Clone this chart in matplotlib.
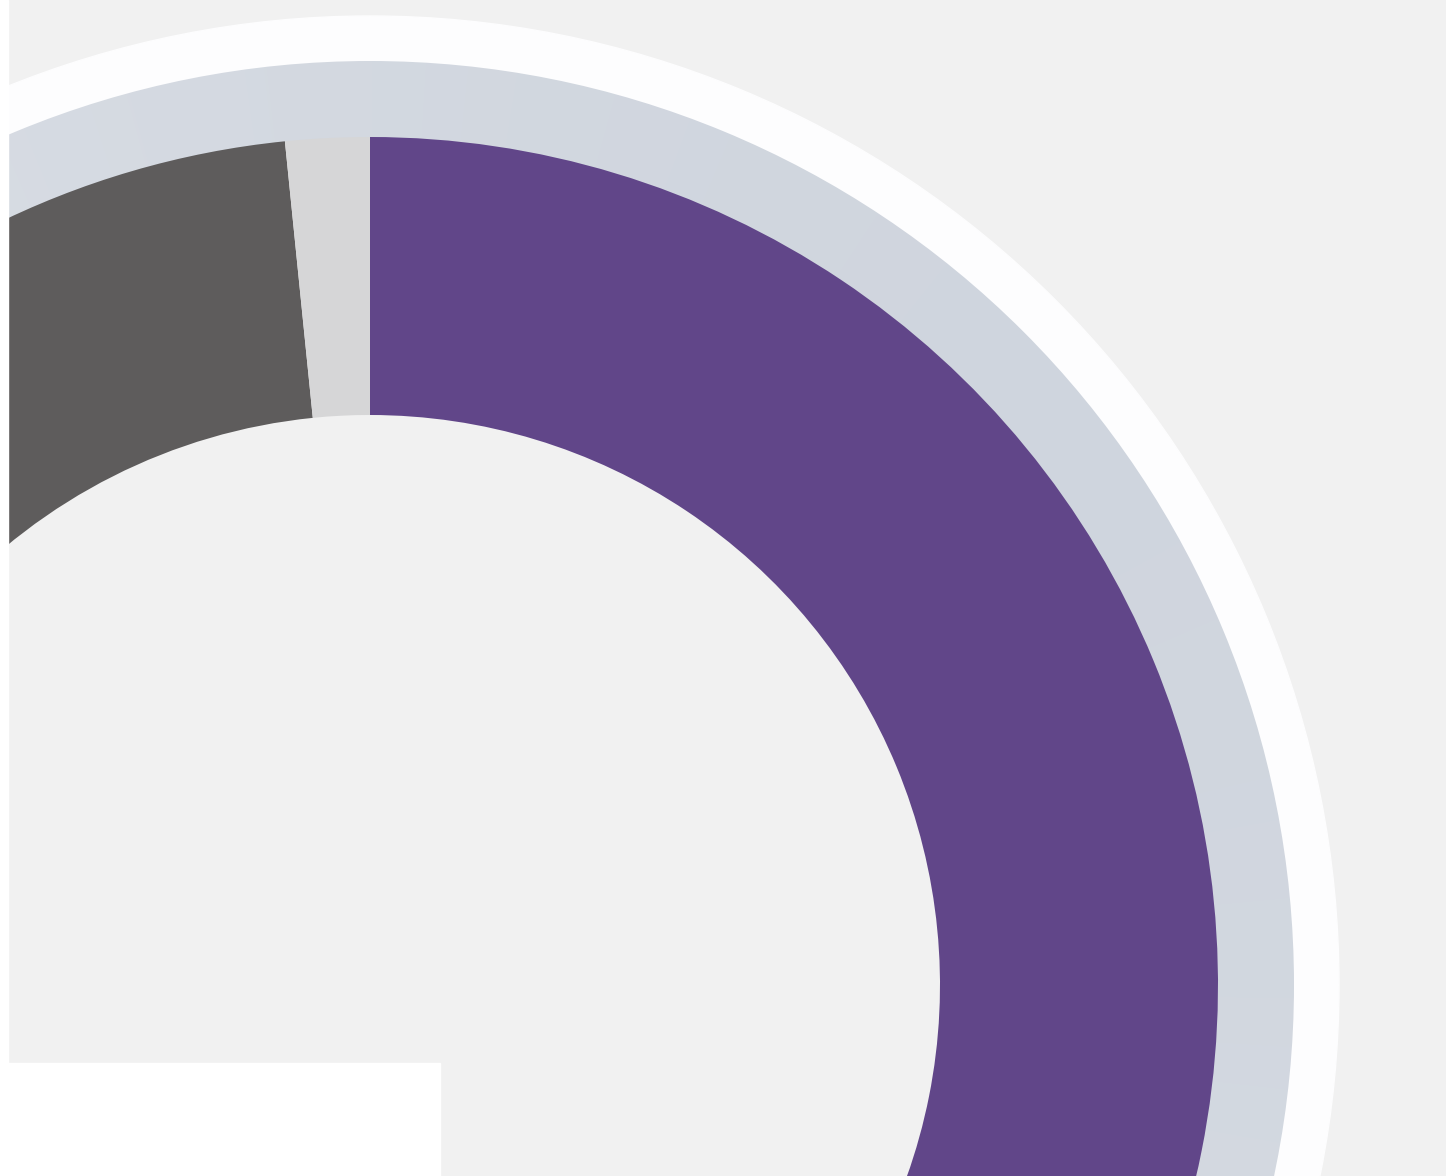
import numpy as np
import matplotlib
matplotlib.use("Agg")
import matplotlib.pyplot as plt
from matplotlib.patches import Wedge, Rectangle

# slice shares, clockwise from 12 o'clock
labels = ["Purple", "Dark grey", "Light grey"]
values = [75.0, 23.4, 1.6]
colors = ["#614689", "#5e5c5c", "#d6d6d7"]

W, H = 1446, 1176
cx, cy = 370, 191          # donut centre (data coords, y up)
r_out, r_in = 848, 570     # data ring
r_band, r_halo = 923, 969  # outer decorative rings

fig = plt.figure(figsize=(W / 100, H / 100), dpi=100)
fig.patch.set_facecolor("white")
ax = fig.add_axes([0, 0, 1, 1])
ax.set_xlim(0, W)
ax.set_ylim(0, H)
ax.set_aspect("equal")
ax.axis("off")

# background panel
ax.add_patch(Rectangle((8, 0), W - 8, H, color="#f1f1f1", zorder=0))

# white halo ring
halo = Wedge((cx, cy), r_halo, 0, 360, width=r_halo - r_band, color="#fdfdfe", zorder=1)
ax.add_patch(halo)

# grey-blue band with soft gradient
band = Wedge((cx, cy), r_band + 1, 0, 360, width=r_band - r_out + 2, color="none", zorder=2)
ax.add_patch(band)
yy, xx = np.mgrid[0:H, 0:W]
ang = np.arctan2(yy - cy, xx - cx)
shade = 0.5 + 0.5 * np.cos(ang - np.radians(40))
c1 = np.array([0.885, 0.896, 0.918])
c2 = np.array([0.815, 0.838, 0.872])
img = c1[None, None, :] * (1 - shade[..., None]) + c2[None, None, :] * shade[..., None]
im = ax.imshow(img, extent=[0, W, 0, H], origin="lower", zorder=2, interpolation="bilinear")
im.set_clip_path(band)

# data slices
wedges, _ = ax.pie(values, colors=colors, startangle=90, counterclock=False,
                   center=(cx, cy), radius=r_out, frame=True,
                   wedgeprops=dict(width=r_out - r_in, linewidth=0))
for w in wedges:
    w.set_zorder(3)

ax.set_xlim(0, W)
ax.set_ylim(0, H)
ax.axis("off")

# white strip on the left edge and white box bottom-left
ax.add_patch(Rectangle((0, 0), 8, H, color="white", zorder=6))
ax.add_patch(Rectangle((8, 0), 432, 113, color="white", zorder=5))

fig.savefig("out.png", dpi=100, facecolor="white")
